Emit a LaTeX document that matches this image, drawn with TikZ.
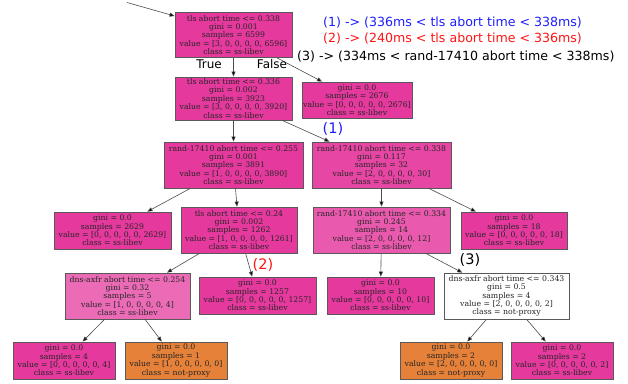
\documentclass[tikz,border=0pt]{standalone}
\usepackage{fontspec}
\usetikzlibrary{arrows.meta}
\newfontfamily\treeserif{DejaVu Serif}
\newfontfamily\treesans{DejaVu Sans}
\definecolor{libev}{RGB}{229,57,158}
\definecolor{libevD}{RGB}{231,70,164}
\definecolor{libevG}{RGB}{233,90,174}
\definecolor{libevI}{RGB}{236,107,182}
\definecolor{notproxy}{RGB}{229,129,57}
\definecolor{markblue}{RGB}{30,30,255}
\definecolor{markred}{RGB}{255,20,20}
\tikzset{
  treenode/.style={draw=black!65, line width=0.8pt, inner sep=0pt, align=center,
    font={\treeserif\fontsize{7.75pt}{8.4pt}\selectfont}, text=black!85},
  sz/.style 2 args={minimum width=#1pt, minimum height=#2pt},
  edge/.style={draw=black!70, line width=0.6pt,
    -{Triangle[length=5pt,width=4pt,fill=black]}},
  branchlabel/.style={font={\treesans\fontsize{12pt}{14pt}\selectfont}},
  legend/.style={font={\treesans\fontsize{12.6pt}{15pt}\selectfont}, inner sep=0pt},
  marker/.style={font={\treesans\fontsize{14.5pt}{17pt}\selectfont}, inner sep=0pt}
}
\begin{document}
\begin{tikzpicture}[x=1pt, y=-1pt]
\fill[white] (0,0) rectangle (628,383);
\useasboundingbox (0,0) rectangle (628,383);

% decision tree nodes
\node[treenode, sz={117}{45}, fill=libev] (root) at (233.5,35)
  {tls abort time <= 0.338\\gini = 0.001\\samples = 6599\\value = [3, 0, 0, 0, 0, 6596]\\class = ss-libev};
\node[treenode, sz={117}{43}, fill=libev] (a) at (233.5,98.5)
  {tls abort time <= 0.336\\gini = 0.002\\samples = 3923\\value = [3, 0, 0, 0, 0, 3920]\\class = ss-libev};
\node[treenode, sz={110}{36}, fill=libev] (b) at (357,100)
  {gini = 0.0\\samples = 2676\\value = [0, 0, 0, 0, 0, 2676]\\class = ss-libev};
\node[treenode, sz={139}{46}, fill=libev] (c) at (233.5,165)
  {rand-17410 abort time <= 0.255\\gini = 0.001\\samples = 3891\\value = [1, 0, 0, 0, 0, 3890]\\class = ss-libev};
\node[treenode, sz={139}{46}, fill=libevD] (d) at (381.5,165)
  {rand-17410 abort time <= 0.338\\gini = 0.117\\samples = 32\\value = [2, 0, 0, 0, 0, 30]\\class = ss-libev};
\node[treenode, sz={117}{37}, fill=libev] (e) at (112.5,230.5)
  {gini = 0.0\\samples = 2629\\value = [0, 0, 0, 0, 0, 2629]\\class = ss-libev};
\node[treenode, sz={116}{46}, fill=libev] (f) at (239,230)
  {tls abort time <= 0.24\\gini = 0.002\\samples = 1262\\value = [1, 0, 0, 0, 0, 1261]\\class = ss-libev};
\node[treenode, sz={137}{46}, fill=libevG] (g) at (381.5,230)
  {rand-17410 abort time <= 0.334\\gini = 0.245\\samples = 14\\value = [2, 0, 0, 0, 0, 12]\\class = ss-libev};
\node[treenode, sz={106}{37}, fill=libev] (h) at (514,230.5)
  {gini = 0.0\\samples = 18\\value = [0, 0, 0, 0, 0, 18]\\class = ss-libev};
\node[treenode, sz={125}{46}, fill=libevI] (i) at (127.5,296)
  {dns-axfr abort time <= 0.254\\gini = 0.32\\samples = 5\\value = [1, 0, 0, 0, 0, 4]\\class = ss-libev};
\node[treenode, sz={117}{37}, fill=libev] (j) at (257.5,295.5)
  {gini = 0.0\\samples = 1257\\value = [0, 0, 0, 0, 0, 1257]\\class = ss-libev};
\node[treenode, sz={107}{37}, fill=libev] (k) at (380.5,295.5)
  {gini = 0.0\\samples = 10\\value = [0, 0, 0, 0, 0, 10]\\class = ss-libev};
\node[treenode, sz={125}{46}, fill=white] (l) at (506.5,296)
  {dns-axfr abort time <= 0.343\\gini = 0.5\\samples = 4\\value = [2, 0, 0, 0, 0, 2]\\class = not-proxy};
\node[treenode, sz={102}{37}, fill=libev] (m) at (64,360.5)
  {gini = 0.0\\samples = 4\\value = [0, 0, 0, 0, 0, 4]\\class = ss-libev};
\node[treenode, sz={102}{37}, fill=notproxy] (n) at (176,360.5)
  {gini = 0.0\\samples = 1\\value = [1, 0, 0, 0, 0, 0]\\class = not-proxy};
\node[treenode, sz={102}{37}, fill=notproxy] (o) at (451,360.5)
  {gini = 0.0\\samples = 2\\value = [2, 0, 0, 0, 0, 0]\\class = not-proxy};
\node[treenode, sz={102}{37}, fill=libev] (p) at (562,360.5)
  {gini = 0.0\\samples = 2\\value = [0, 0, 0, 0, 0, 2]\\class = ss-libev};

% incoming arrow into the root
\coordinate (entry) at (127,2.5);
\draw[edge] (entry) -- (root.west |- 0,16);

% branches
\draw[edge] (root) -- (a);
\draw[edge] (root) -- (b);
\draw[edge] (a) -- (c);
\draw[edge] (a) -- (d);
\draw[edge] (c) -- (e);
\draw[edge] (c) -- (f);
\draw[edge] (d) -- (g);
\draw[edge] (d) -- (h);
\draw[edge] (f) -- (i);
\draw[edge] (f) -- (j);
\draw[edge] (g) -- (k);
\draw[edge] (g) -- (l);
\draw[edge] (i) -- (m);
\draw[edge] (i) -- (n);
\draw[edge] (l) -- (o);
\draw[edge] (l) -- (p);

% branch labels
\node[branchlabel] (truelbl) at (209,64.5) {True};
\node[branchlabel] (falselbl) at (272,64.5) {False};

% path markers
\node[marker, text=markblue] (m1) at (333,128.5) {(1)};
\node[marker, text=markred] (m2) at (263,265) {(2)};
\node[marker] (m3) at (470,260) {(3)};

% legend
\node[legend, text=markblue, anchor=west] (leg1) at (323,23) {(1) -> (336ms < tls abort time < 338ms)};
\node[legend, text=markred, anchor=west] (leg2) at (323,38.5) {(2) -> (240ms < tls abort time < 336ms)};
\node[legend, anchor=west] (leg3) at (297,57) {(3) -> (334ms < rand-17410 abort time < 338ms)};
\end{tikzpicture}
\end{document}
